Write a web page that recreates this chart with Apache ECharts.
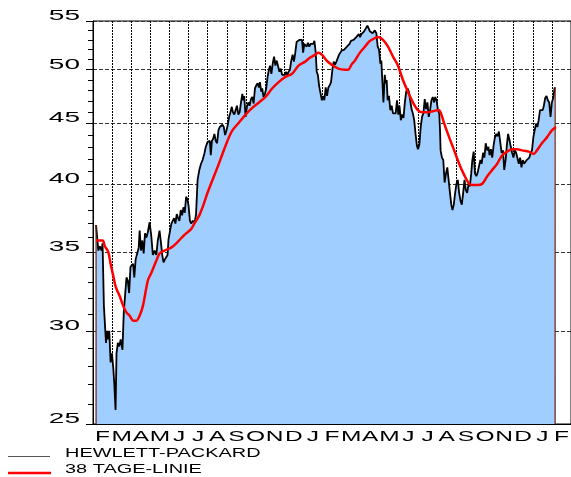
<!DOCTYPE html>
<html>
<head>
<meta charset="utf-8">
<script src="https://cdn.jsdelivr.net/npm/echarts@6/dist/echarts.min.js"></script>
<style>
html, body { margin: 0; padding: 0; background: #fff; }
#chart { width: 571px; height: 477px; }
</style>
</head>
<body>
<div id="chart"></div>
<script>
// Monatsbuchstaben, Februar bis Februar (25 Monate)
const monthLabels = ['F','M','A','M','J','J','A','S','O','N','D','J','F','M','A','M','J','J','A','S','O','N','D','J','F'];
const priceTicks = [25, 30, 35, 40, 45, 50, 55];
const minorTicks = [25,26,27,28,29,30,31,32,33,34,35,36,37,38,39,40,41,42,43,44,45,46,47,48,49,50,51,52,53,54,55];

// Kurs Hewlett-Packard: Position in Monaten ab Anfang Februar, Kurs
const hpMonth = [
  0.16,0.28,0.36,0.45,0.50,0.57,0.68,0.74,0.80,0.85,0.92,0.99,1.06,1.11,1.18,1.23,1.30,1.37,1.45,1.54,
  1.61,1.68,1.75,1.82,1.89,1.96,2.03,2.10,2.16,2.23,2.30,2.39,2.44,2.51,2.58,2.65,2.72,2.79,2.87,2.96,
  3.05,3.13,3.22,3.31,3.39,3.48,3.55,3.62,3.69,3.76,3.83,3.90,3.95,4.03,4.10,4.17,4.24,4.31,4.38,4.45,
  4.52,4.59,4.66,4.73,4.80,4.87,4.94,5.00,5.07,5.14,5.21,5.32,5.39,5.47,5.56,5.65,5.73,5.82,5.90,5.99,
  6.04,6.11,6.16,6.22,6.29,6.35,6.42,6.49,6.56,6.63,6.70,6.77,6.84,6.91,6.98,7.05,7.12,7.19,7.26,7.32,
  7.39,7.46,7.53,7.60,7.67,7.74,7.81,7.86,7.91,7.98,8.05,8.12,8.19,8.26,8.33,8.40,8.47,8.54,8.61,8.68,
  8.73,8.80,8.85,8.92,8.99,9.06,9.13,9.20,9.26,9.33,9.40,9.47,9.54,9.61,9.68,9.75,9.82,9.89,9.96,10.03,
  10.10,10.16,10.23,10.30,10.37,10.44,10.51,10.58,10.65,10.72,10.79,10.86,10.93,10.99,11.05,11.10,11.17,11.24,11.31,11.38,
  11.45,11.52,11.58,11.65,11.70,11.76,11.83,11.90,11.97,12.03,12.10,12.17,12.24,12.31,12.38,12.45,12.52,12.59,12.66,12.73,
  12.80,12.87,12.94,13.00,13.07,13.14,13.21,13.28,13.35,13.42,13.49,13.56,13.63,13.70,13.77,13.84,13.90,13.97,14.04,14.11,
  14.18,14.25,14.35,14.42,14.48,14.55,14.62,14.68,14.74,14.82,14.89,14.96,15.03,15.08,15.13,15.19,15.26,15.31,15.36,15.41,
  15.48,15.55,15.62,15.69,15.76,15.83,15.90,15.97,16.03,16.10,16.17,16.24,16.31,16.38,16.45,16.52,16.59,16.66,16.73,16.80,
  16.87,16.94,17.00,17.07,17.14,17.21,17.28,17.35,17.42,17.49,17.56,17.63,17.70,17.77,17.84,17.90,17.97,18.04,18.11,18.15,
  18.18,18.25,18.32,18.39,18.46,18.53,18.60,18.67,18.74,18.80,18.87,18.94,19.01,19.08,19.15,19.22,19.29,19.36,19.43,19.50,
  19.57,19.64,19.71,19.78,19.84,19.91,19.98,20.05,20.12,20.19,20.26,20.33,20.40,20.47,20.54,20.61,20.68,20.74,20.81,20.88,
  20.95,21.02,21.09,21.16,21.23,21.30,21.37,21.44,21.51,21.58,21.65,21.71,21.78,21.85,21.92,21.99,22.06,22.13,22.20,22.27,
  22.34,22.41,22.48,22.55,22.61,22.68,22.75,22.82,22.89,22.96,23.03,23.10,23.17,23.24,23.31,23.38,23.45,23.52,23.58,23.65,
  23.72,23.79,23.86,23.93,24.00,24.07,24.14,24.17
];
const hpPrice = [
  36.9,35.1,35.4,35.1,35.6,31.5,29.3,30.0,29.5,30.0,28.2,28.7,27.9,27.1,25.7,28.7,29.3,29.1,29.5,28.9,
  31.1,31.2,33.3,33.1,32.3,34.0,33.9,34.2,33.3,34.5,34.4,35.3,36.5,35.1,35.8,34.9,36.3,36.0,36.4,37.1,
  36.1,34.8,35.1,34.8,35.8,36.5,35.7,34.8,34.3,34.5,34.4,34.8,35.9,35.8,37.0,37.2,37.4,37.0,37.7,37.4,
  37.2,38.0,37.6,38.2,37.8,39.0,38.8,38.3,37.2,37.0,37.2,37.1,37.7,40.3,41.1,41.6,41.9,42.4,43.0,43.4,
  43.3,43.5,42.3,43.5,43.7,44.1,43.5,43.3,44.4,44.7,44.6,44.9,44.7,44.0,44.4,44.9,45.6,46.0,46.5,46.0,
  45.8,46.2,46.6,45.8,46.0,46.9,47.7,47.1,47.5,45.6,46.5,46.9,46.6,47.2,47.4,46.8,48.2,48.5,48.7,48.3,
  48.8,47.9,48.2,47.4,47.7,48.2,49.3,50.0,50.4,49.6,50.6,51.3,50.4,50.9,50.8,49.8,50.1,49.5,49.6,49.5,
  49.8,49.5,49.8,50.0,50.9,51.5,50.8,51.7,52.8,52.9,53.0,52.8,53.0,51.7,52.6,52.8,52.3,52.7,52.3,52.6,
  52.8,52.6,52.9,51.7,49.8,49.5,48.4,48.5,47.1,47.5,47.1,48.3,47.5,48.3,48.5,48.8,50.0,50.8,50.5,50.8,
  50.9,51.5,51.3,51.9,51.7,52.0,51.9,52.3,52.2,52.6,52.9,52.8,53.0,53.2,53.3,53.4,53.6,53.3,53.6,53.5,
  53.9,53.7,54.5,54.2,53.9,54.0,53.7,53.6,54.0,53.7,52.3,52.0,50.6,50.9,49.0,46.9,49.5,48.7,49.0,47.1,
  47.5,46.2,46.6,45.9,45.8,45.9,47.1,45.8,46.6,45.3,45.8,45.5,46.9,47.9,48.2,47.9,47.1,46.3,45.9,45.3,
  44.1,43.1,42.8,43.2,44.7,45.6,45.9,47.2,46.3,46.9,45.6,46.2,47.1,47.4,46.9,47.4,47.1,46.2,45.9,44.4,
  42.7,42.1,41.9,40.1,40.8,41.3,40.3,39.3,38.4,38.0,38.4,39.3,40.0,40.3,39.3,38.7,38.4,39.3,40.3,39.5,
  39.3,40.0,39.8,40.8,41.9,42.6,40.8,40.6,40.9,40.8,41.9,41.6,42.5,42.1,43.3,42.7,43.0,42.3,42.8,42.1,
  43.1,43.8,44.1,43.9,44.3,43.4,42.5,42.7,41.1,41.9,43.2,44.1,43.6,43.0,42.5,42.1,42.7,42.5,42.6,41.6,
  42.1,41.3,41.9,41.6,41.7,41.9,42.0,42.1,42.5,42.7,43.8,44.4,45.0,44.7,45.3,46.2,46.3,46.2,46.6,47.3,
  47.5,47.1,46.9,45.6,46.9,47.3,48.2,48.3
];

// 38-Tage-Linie
const maMonth = [
  0.16,0.50,0.62,0.80,0.92,1.06,1.19,1.40,1.58,1.75,1.92,2.10,2.27,2.44,2.61,2.87,3.05,3.31,3.48,3.74,
  4.09,4.43,4.78,5.13,5.30,5.56,5.73,5.99,6.25,6.51,6.77,7.03,7.29,7.64,7.98,8.33,8.68,9.02,9.37,9.71,
  10.06,10.41,10.75,11.10,11.36,11.62,11.79,11.97,12.22,12.48,12.83,13.18,13.35,13.52,13.70,13.96,14.22,14.48,14.74,14.91,
  15.17,15.43,15.69,15.95,16.21,16.47,16.73,16.99,17.25,17.51,17.77,18.08,18.20,18.37,18.63,18.89,19.15,19.41,19.67,19.84,
  20.10,20.36,20.62,20.88,21.14,21.40,21.66,21.92,22.18,22.44,22.79,23.05,23.22,23.48,23.74,24.00,24.21
];
const maPrice = [
  35.8,35.8,35.4,35.0,34.2,33.4,32.7,32.1,31.5,31.1,30.9,30.6,30.6,30.9,31.5,33.1,33.6,34.4,34.9,35.1,
  35.3,35.7,36.2,36.6,37.0,37.6,38.2,39.3,40.3,41.3,42.4,43.5,44.4,45.1,45.8,46.4,46.9,47.4,48.2,48.8,
  49.3,49.6,50.4,50.8,51.2,51.5,51.7,51.5,50.9,50.5,50.1,50.0,50.0,50.5,50.9,51.7,52.3,52.9,53.2,53.3,
  53.0,52.3,51.3,50.4,49.0,47.9,46.9,46.2,46.0,46.0,46.1,46.2,45.9,45.0,43.8,42.7,41.6,40.7,40.0,39.9,
  39.9,40.0,40.6,41.1,41.6,42.3,42.6,42.8,42.8,42.7,42.6,42.4,42.7,43.3,43.8,44.4,44.7
];

const FONT = '"Liberation Sans", Arial, sans-serif';
const yMin = priceTicks[0];
const yMax = priceTicks[priceTicks.length - 1];

const hpData = hpMonth.map((m, i) => [m, hpPrice[i]]);
const maData = maMonth.map((m, i) => [m, maPrice[i]]);
const lastIdx = hpMonth.length - 1;
// Randlinien der Fläche (links und rechts)
const leftEdge = [[hpMonth[0], yMin], [hpMonth[0], hpPrice[0]]];
const rightEdge = [[hpMonth[lastIdx], hpPrice[lastIdx]], [hpMonth[lastIdx], yMin]];

const chart = echarts.init(document.getElementById('chart'));

const option = {
    animation: false,
    backgroundColor: '#fff',
    grid: {
        left: 93, top: 21, width: 481.25, height: 403,
        show: true, borderColor: '#000', borderWidth: 1, backgroundColor: 'transparent'
    },
    xAxis: [
        {
            type: 'category',
            data: monthLabels,
            boundaryGap: true,
            position: 'bottom',
            axisLine: { onZero: false, lineStyle: { color: '#000', width: 1 } },
            axisTick: { interval: 0, length: 4, lineStyle: { color: '#000' } },
            axisLabel: { show: false },
            splitLine: { show: true, interval: 0, lineStyle: { color: '#000', width: 1, type: [2, 1] } }
        },
        { type: 'value', min: 0, max: 25, position: 'bottom', show: false }
    ],
    yAxis: [
        {
            type: 'log', min: yMin, max: yMax, position: 'left',
            axisLine: { show: true, onZero: false, lineStyle: { color: '#000', width: 1 } },
            axisTick: { show: true, length: 7, customValues: priceTicks, lineStyle: { color: '#000' } },
            axisLabel: { show: false, customValues: priceTicks },
            splitLine: { show: true, customValues: priceTicks, lineStyle: { color: '#333', width: 1, type: [4, 2] } }
        },
        {
            type: 'log', min: yMin, max: yMax, position: 'left',
            axisLine: { show: false },
            axisTick: { show: true, length: 5, customValues: minorTicks, lineStyle: { color: '#000' } },
            axisLabel: { show: false, customValues: minorTicks },
            splitLine: { show: false }
        }
    ],
    series: [
        {
            name: 'HEWLETT-PACKARD',
            type: 'line',
            xAxisIndex: 1, yAxisIndex: 0,
            data: hpData,
            symbol: 'none',
            lineStyle: { color: '#000', width: 1.8 },
            areaStyle: { color: '#a0cfff', opacity: 1, origin: 'start' },
            z: 2
        },
        {
            type: 'line', xAxisIndex: 1, yAxisIndex: 0, data: leftEdge, symbol: 'none',
            lineStyle: { color: '#6e1c10', width: 1.2 }, z: 3, silent: true
        },
        {
            type: 'line', xAxisIndex: 1, yAxisIndex: 0, data: rightEdge, symbol: 'none',
            lineStyle: { color: '#6e1c10', width: 1.2 }, z: 3, silent: true
        },
        {
            name: '38 TAGE-LINIE',
            type: 'line',
            xAxisIndex: 1, yAxisIndex: 0,
            data: maData,
            symbol: 'none',
            smooth: 0.3,
            lineStyle: { color: '#ff0000', width: 2.5 },
            z: 4
        }
    ]
};

chart.setOption(option);

// breit gezogene Beschriftung wie im Original
const graphics = [];
priceTicks.forEach(v => {
    const py = chart.convertToPixel({ yAxisIndex: 0 }, v);
    graphics.push({
        type: 'text', x: 80, y: py - 5, scaleX: 2.0,
        style: { text: String(v), font: '14px ' + FONT, fill: '#000', align: 'right', verticalAlign: 'middle' }
    });
});
monthLabels.forEach((m, i) => {
    const px = chart.convertToPixel({ xAxisIndex: 0 }, i);
    graphics.push({
        type: 'text', x: px, y: 437, scaleX: 1.75,
        style: { text: m, font: '14px ' + FONT, fill: '#000', align: 'center', verticalAlign: 'middle' }
    });
});
// Legende
graphics.push(
    { type: 'line', shape: { x1: 8, y1: 456.5, x2: 50, y2: 456.5 }, style: { stroke: '#555', lineWidth: 1 } },
    { type: 'text', x: 65, y: 453.5, scaleX: 1.66,
      style: { text: 'HEWLETT-PACKARD', font: '12px ' + FONT, fill: '#000', align: 'left', verticalAlign: 'middle' } },
    { type: 'line', shape: { x1: 8, y1: 473, x2: 51, y2: 473 }, style: { stroke: '#ff0000', lineWidth: 2.5 } },
    { type: 'text', x: 65, y: 470, scaleX: 1.66,
      style: { text: '38 TAGE-LINIE', font: '12px ' + FONT, fill: '#000', align: 'left', verticalAlign: 'middle' } }
);
chart.setOption({ graphic: graphics });
</script>
</body>
</html>
